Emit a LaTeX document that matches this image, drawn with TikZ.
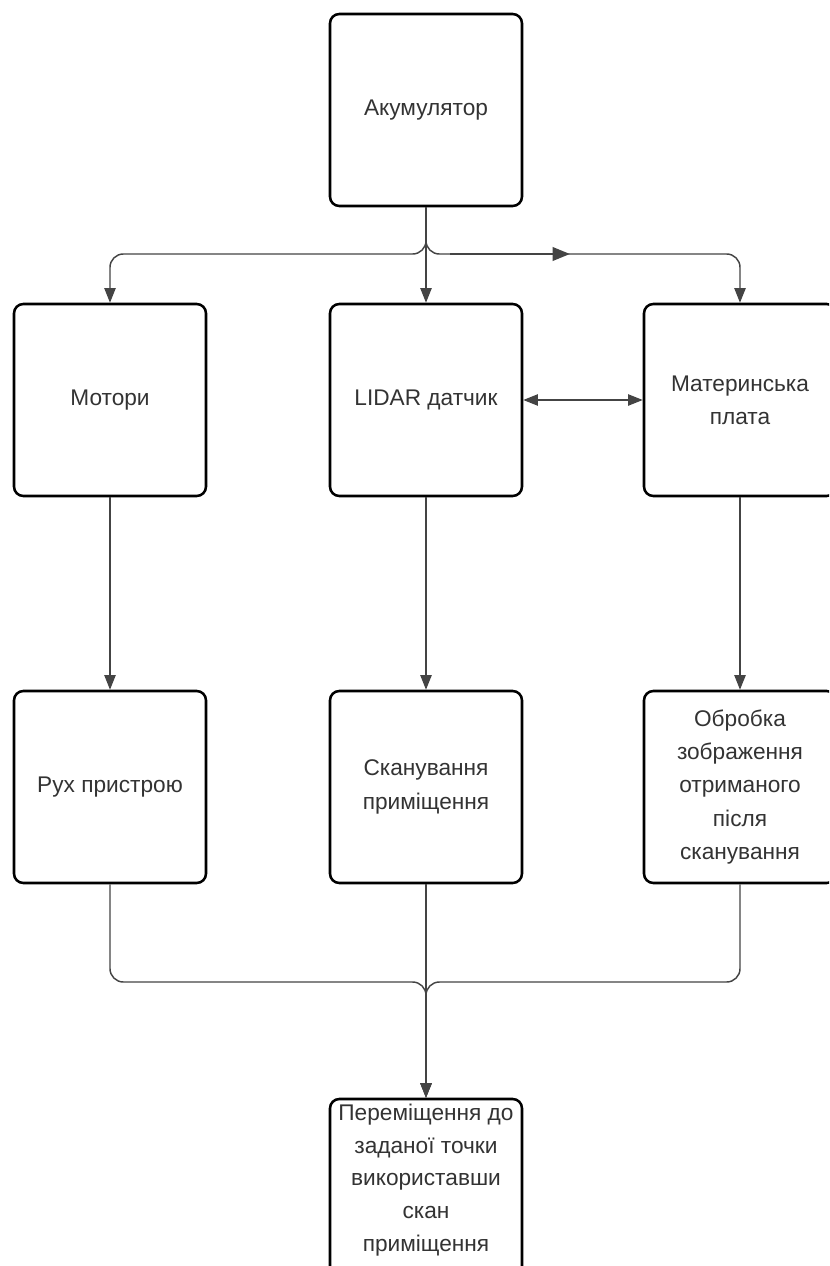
\documentclass[tikz,border=0pt]{standalone}
\usepackage{fontspec}
\setmainfont{Liberation Sans}
\usetikzlibrary{arrows.meta}
\definecolor{txt}{HTML}{333333}
\definecolor{ln}{HTML}{444444}
\begin{document}
\begin{tikzpicture}[x=0.75pt,y=-0.75pt,
  box/.style={draw=black, line width=1.9pt, rounded corners=7pt, minimum width=144pt, minimum height=144pt,
    inner sep=0pt, align=center, text=txt, font=\fontsize{17}{25}\selectfont},
  conn/.style={draw=ln, line width=1.1pt, -{Triangle[length=11pt,width=8.5pt]}},
  bconn/.style={draw=ln, line width=1.1pt, {Triangle[length=11pt,width=8.5pt]}-{Triangle[length=11pt,width=8.5pt]}},
  plain/.style={draw=ln, line width=1.1pt}]
\useasboundingbox (0,0) rectangle (829,1266);
\clip (0,0) rectangle (829,1266);
\fill[white] (0,0) rectangle (829,1266);

\node[box] (ak) at (426,110) {Акумулятор};
\node[box] (mot) at (110,400) {Мотори};
\node[box] (lid) at (426,400) {LIDAR датчик};
\node[box] (mat) at (740,400) {Материнська\\плата};
\node[box] (rux) at (110,787) {Рух пристрою};
\node[box] (scan) at (426,787) {Сканування\\приміщення};
\node[box] (obr) at (740,787) {Обробка\\зображення\\отриманого\\після\\сканування};
\node[box] (per) at (426,1195) {};
\node[align=center, text=txt, font=\fontsize{17}{24.5}\selectfont] (pertext) at (426,1180) {Переміщення до\\заданої точки\\використавши\\скан\\приміщення};

\coordinate (t) at (426,254);
\coordinate (b) at (426,982);
\coordinate (xs) at (450,254);
\coordinate (xe) at (570,254);

% top fork
\draw[conn, rounded corners=10pt] (ak.south) -- (t) -| (mot.north);
\draw[conn, rounded corners=10pt] (ak.south) -- (t) -| (mat.north);
\draw[conn] (ak.south) -- (lid.north);
\draw[draw=ln, line width=2pt, -{Triangle[length=13pt,width=10pt]}] (xs) -- (xe);

% bidirectional
\draw[bconn] (lid.east) -- (mat.west);

% verticals
\draw[conn] (mot.south) -- (rux.north);
\draw[conn] (lid.south) -- (scan.north);
\draw[conn] (mat.south) -- (obr.north);

% bottom merge
\draw[conn, rounded corners=10pt] (rux.south) |- (b) -- (per.north);
\draw[conn, rounded corners=10pt] (obr.south) |- (b) -- (per.north);
\draw[conn] (scan.south) -- (per.north);
\end{tikzpicture}
\end{document}
